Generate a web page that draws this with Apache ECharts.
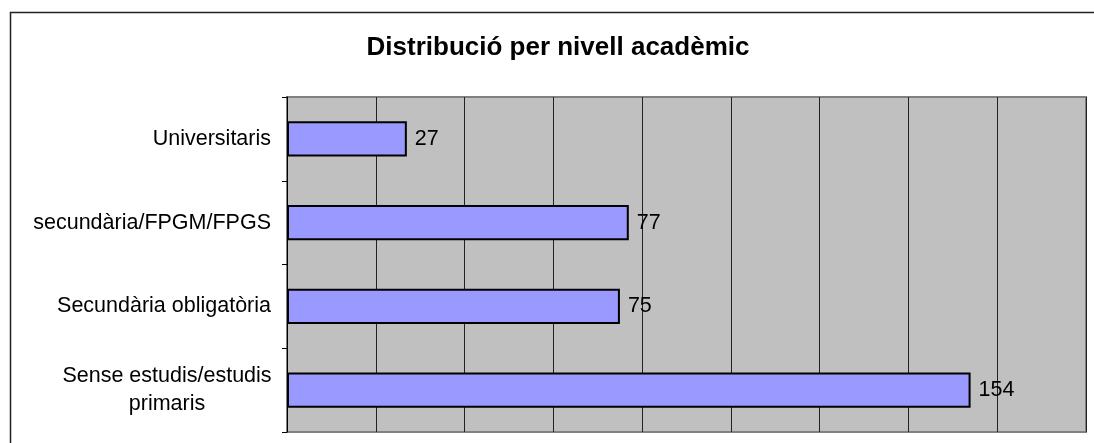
<!DOCTYPE html>
<html>
<head>
<meta charset="utf-8">
<script src="https://cdn.jsdelivr.net/npm/echarts@6/dist/echarts.min.js"></script>
<style>
  html, body { margin: 0; padding: 0; background: #fff; }
  #chart { width: 1094px; height: 443px; }
</style>
</head>
<body>
<div id="chart"></div>
<script>
const categories = ['Universitaris', 'secundària/FPGM/FPGS', 'Secundària obligatòria', 'Sense estudis/estudis\nprimaris'];
const values = [27, 77, 75, 154];
const axisMin = 0;
const axisMax = 180;
const axisStep = 20;

const font = '"Liberation Sans", Arial, sans-serif';

function getOption() {
  return {
    backgroundColor: '#fff',
    animation: false,
    title: {
      text: 'Distribució per nivell acadèmic',
      left: 553,
      textAlign: 'center',
      top: 30,
      textStyle: {
        fontFamily: font,
        fontWeight: 'bold',
        fontSize: 26,
        color: '#000',
      },
    },
    graphic: [{
      type: 'rect',
      shape: { x: 10.5, y: 12.5, width: 1100, height: 450 },
      style: { fill: 'none', stroke: '#222', lineWidth: 1.5 },
      silent: true,
    }],
    grid: {
      left: 287,
      right: 8,
      top: 97,
      bottom: 11,
      show: true,
      backgroundColor: '#c0c0c0',
      borderColor: '#808080',
      borderWidth: 2,
    },
    xAxis: {
      type: 'value',
      min: axisMin,
      max: axisMax,
      interval: axisStep,
      axisLine: { show: false },
      axisTick: { show: false },
      axisLabel: { show: false },
      splitLine: {
        show: true,
        lineStyle: { color: '#222', width: 1 },
      },
    },
    yAxis: {
      type: 'category',
      inverse: true,
      data: categories.map((c) => {
        if (c.indexOf('\n') >= 0) {
          return { value: c, textStyle: { align: 'center', padding: [0, 208, 0, 0] } };
        }
        return c;
      }),
      axisLine: { show: true, lineStyle: { color: '#000', width: 1 } },
      axisTick: { show: true, length: 5, lineStyle: { color: '#000' } },
      axisLabel: {
        interval: 0,
        margin: 16,
        fontFamily: font,
        fontSize: 21.5,
        lineHeight: 28,
        color: '#000',
      },
      splitLine: { show: false },
    },
    series: [{
      type: 'bar',
      data: values,
      barCategoryGap: '58%',
      itemStyle: {
        color: '#9999ff',
        borderColor: '#000',
        borderWidth: 2,
      },
      label: {
        show: true,
        position: 'right',
        distance: 8,
        fontFamily: font,
        fontSize: 21.5,
        color: '#000',
      },
    }],
  };
}

const chart = echarts.init(document.getElementById('chart'));
chart.setOption(getOption());
</script>
</body>
</html>
